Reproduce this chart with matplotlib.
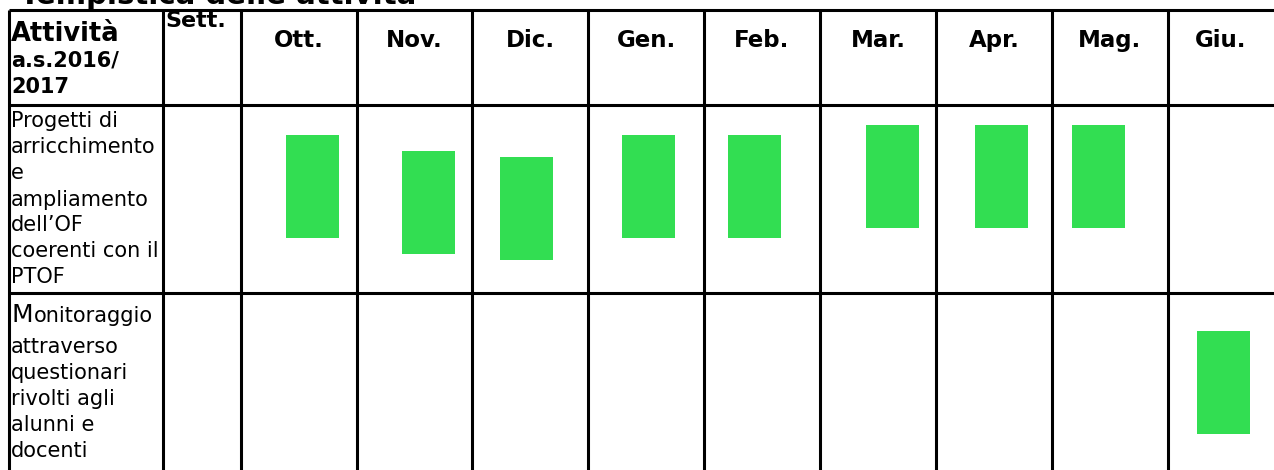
import matplotlib
matplotlib.use('Agg')
import matplotlib.pyplot as plt

# --- data: the activity schedule ---
title = 'Tempistica delle attività'
header_lines = ['Attività', 'a.s.2016/', '2017']
months = ['Sett.', 'Ott.', 'Nov.', 'Dic.', 'Gen.', 'Feb.', 'Mar.', 'Apr.', 'Mag.', 'Giu.']
activity_1 = ['Progetti di', 'arricchimento', 'e', 'ampliamento', 'dell\u2019OF',
              'coerenti con il', 'PTOF']
activity_2 = ['onitoraggio', 'attraverso', 'questionari', 'rivolti agli',
              'alunni e', 'docenti']
# month indices in which each activity is active
active_1 = [1, 2, 3, 4, 5, 6, 7, 8]
active_2 = [9]

# --- layout (pixels, figure is 1274x470) ---
col_edges = [9, 163, 241, 357, 472, 588, 704, 820, 936, 1052, 1168, 1274]
row_edges = [10, 105, 293, 470]
# bar placement inside each cell (left offset, top)
offsets_1 = [(45, 135), (45, 151), (28, 157), (34, 135), (24, 135),
             (46, 125), (39, 125), (20, 125)]
offsets_2 = [(29, 331)]
bar_w, bar_h = 53, 103
green = '#32de52'

fig = plt.figure(figsize=(12.74, 4.70), dpi=100)
ax = fig.add_axes([0, 0, 1, 1])
ax.set_xlim(0, 1274)
ax.set_ylim(470, 0)
ax.axis('off')

# grid of the table (no right border, it runs off the page)
lw = 2.2
ax.vlines(col_edges[:-1], row_edges[0], row_edges[-1], color='black', linewidth=lw)
ax.hlines(row_edges[:-1], col_edges[0], col_edges[-1], color='black', linewidth=lw)

# title (partially cut by the top edge, as in the source)
ax.text(20, 4.5, title, fontsize=21, fontweight='bold', va='baseline', ha='left')

# header cell
ax.text(11, 41, header_lines[0], fontsize=18.5, fontweight='bold', va='baseline')
ax.text(11, 67, header_lines[1], fontsize=15, fontweight='bold', va='baseline')
ax.text(11, 93, header_lines[2], fontsize=15, fontweight='bold', va='baseline')

# month headers
ax.text(165, 27, months[0], fontsize=16, fontweight='bold', va='baseline')
for i, m in enumerate(months[1:], start=1):
    cx = (col_edges[i + 1] + col_edges[i + 2]) / 2
    ax.text(cx, 47, m, fontsize=16.5, fontweight='bold', va='baseline', ha='center')

# activity labels
base1 = [127, 153, 179, 206, 231, 257, 283]
for y, line in zip(base1, activity_1):
    ax.text(11, y, line, fontsize=15, va='baseline')

ax.text(11, 322, 'M', fontsize=18, va='baseline')
ax.text(34, 322, activity_2[0], fontsize=15, va='baseline')
base2 = [353, 379, 405, 431, 457]
for y, line in zip(base2, activity_2[1:]):
    ax.text(11, y, line, fontsize=15, va='baseline')

# bars of the schedule
def draw_bars(active, offsets):
    for m, (dx, top) in zip(active, offsets):
        left = col_edges[m + 1]
        ax.bar(left + dx, bar_h, width=bar_w, bottom=top, align='edge',
               color=green, linewidth=0)

draw_bars(active_1, offsets_1)
draw_bars(active_2, offsets_2)

fig.savefig('out.png', dpi=100)
